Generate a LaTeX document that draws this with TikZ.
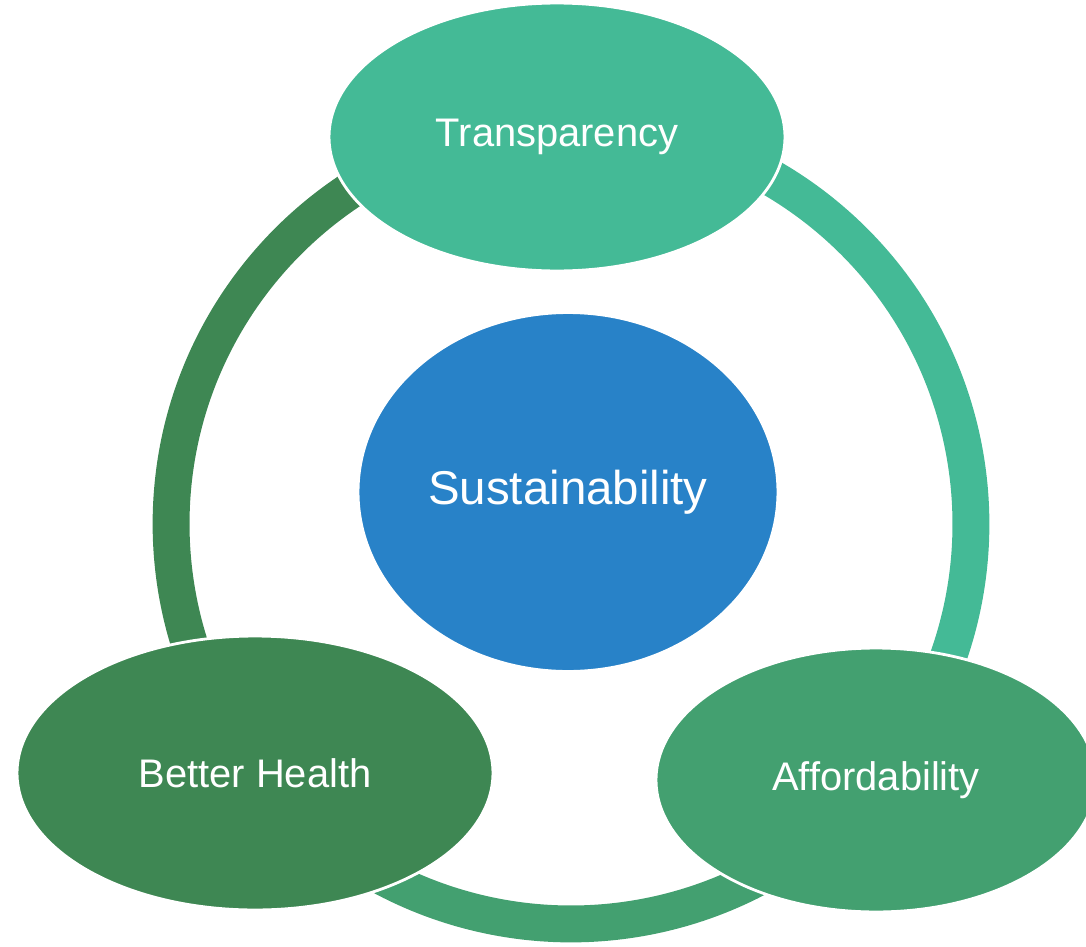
\documentclass[tikz,border=0pt]{standalone}
\usepackage{fontspec}
\setmainfont{Liberation Sans}
\usetikzlibrary{shapes.geometric}

\begin{document}
\begin{tikzpicture}[x=0.02cm, y=-0.02cm,
  bubble/.style={ellipse, draw=white, line width=1.6pt, inner sep=0pt,
    text=white, font=\fontsize{22.7}{26}\selectfont},
  ringpart/.style={line width=21pt}]
  \definecolor{transpgreen}{RGB}{68,186,150}
  \definecolor{sustblue}   {RGB}{40,130,200}
  \definecolor{healthgreen}{RGB}{62,135,83}
  \definecolor{affordgreen}{RGB}{67,160,112}

  % Canvas
  \useasboundingbox (0,0) rectangle (1086,947);

  % Ring round the centre
  \coordinate (hub) at (571,524);
  \draw[ringpart, healthgreen] (hub) ++(90:8cm)  arc[start angle=90,  end angle=218, radius=8cm];
  \draw[ringpart, transpgreen] (hub) ++(-40:8cm) arc[start angle=-40, end angle=90,  radius=8cm];
  \draw[ringpart, affordgreen] (hub) ++(218:8cm) arc[start angle=218, end angle=320, radius=8cm];

  % Bubbles
  \node[bubble, fill=transpgreen, minimum width=9.12cm, minimum height=5.36cm] (transp) at (557,137) {Transparency};
  \node[bubble, fill=sustblue, minimum width=8.4cm, minimum height=7.18cm,
    font=\fontsize{27}{30}\selectfont] (sust) at (568,492) {Sustainability};
  \node[bubble, fill=healthgreen, minimum width=9.52cm, minimum height=5.48cm] (health) at (255,773) {Better Health};
  \node[bubble, fill=affordgreen, minimum width=8.8cm, minimum height=5.28cm] (afford) at (876,780) {Affordability};
\end{tikzpicture}
\end{document}
